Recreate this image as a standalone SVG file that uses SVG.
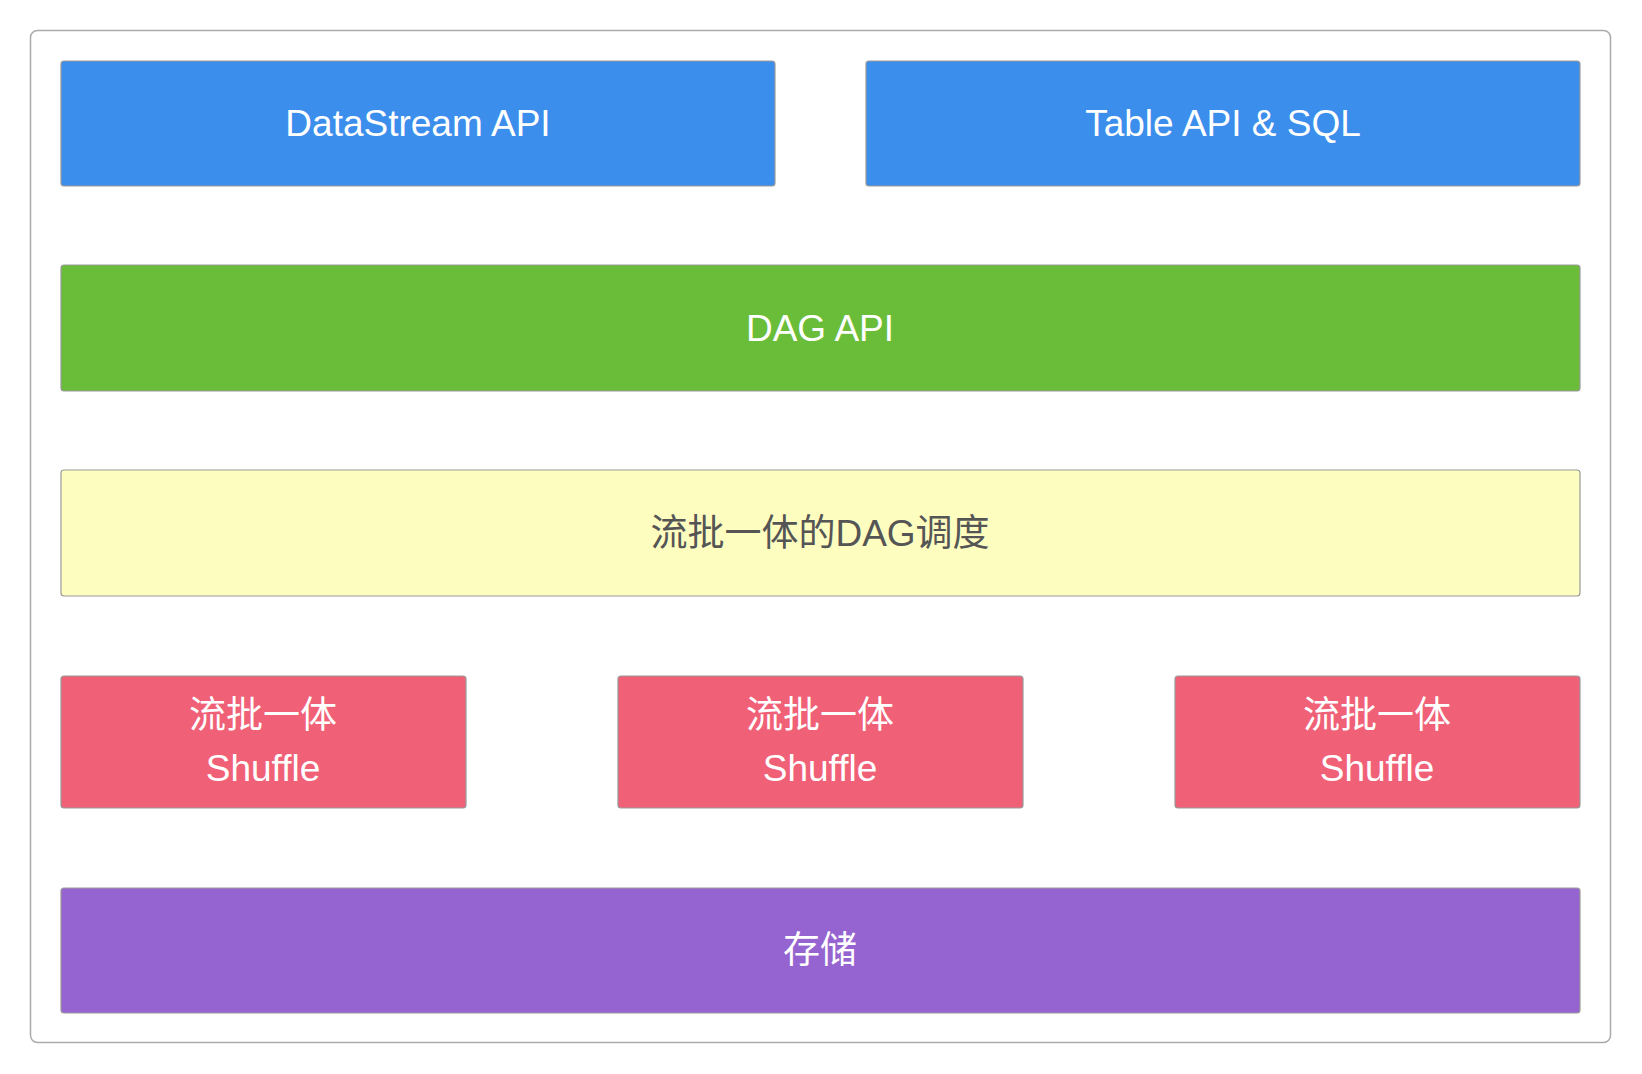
<svg xmlns="http://www.w3.org/2000/svg" width="1642" height="1074" viewBox="0 0 1642 1074">
<style>
.b{stroke:#999;stroke-width:1.2}
.t{font-family:"Liberation Sans","Noto Sans CJK SC",sans-serif;font-size:37px;fill:#fff;text-anchor:middle;dominant-baseline:central}
.d{fill:#555}
</style>
<rect width="1642" height="1074" fill="#fff"/>
<rect x="30.5" y="30.5" width="1580" height="1012" rx="7" fill="#fff" stroke="#aaa" stroke-width="1.5"/>
<g id="datastream"><rect class="b" x="61" y="61" width="714" height="125" rx="3" fill="#3c8eec"/><text class="t" x="418" y="123">DataStream API</text></g>
<g id="table"><rect class="b" x="866" y="61" width="714" height="125" rx="3" fill="#3c8eec"/><text class="t" x="1223" y="123">Table API &amp; SQL</text></g>
<g id="dag"><rect class="b" x="61" y="265" width="1519" height="126" rx="3" fill="#6abd38"/><text class="t" x="820" y="328">DAG API</text></g>
<g id="sched"><rect class="b" x="61" y="470" width="1519" height="126" rx="3" fill="#fefdc0"/><text class="t d" x="820" y="533">流批一体的DAG调度</text></g>
<g id="s1"><rect class="b" x="61" y="676" width="405" height="132" rx="3" fill="#f06077"/><text class="t" x="263" y="715">流批一体</text><text class="t" x="263" y="768">Shuffle</text></g>
<g id="s2"><rect class="b" x="618" y="676" width="405" height="132" rx="3" fill="#f06077"/><text class="t" x="820" y="715">流批一体</text><text class="t" x="820" y="768">Shuffle</text></g>
<g id="s3"><rect class="b" x="1175" y="676" width="405" height="132" rx="3" fill="#f06077"/><text class="t" x="1377" y="715">流批一体</text><text class="t" x="1377" y="768">Shuffle</text></g>
<g id="storage"><rect class="b" x="61" y="888" width="1519" height="125" rx="3" fill="#9664d0"/><text class="t" x="820" y="950">存储</text></g>
<g id="connectors"/>
</svg>
